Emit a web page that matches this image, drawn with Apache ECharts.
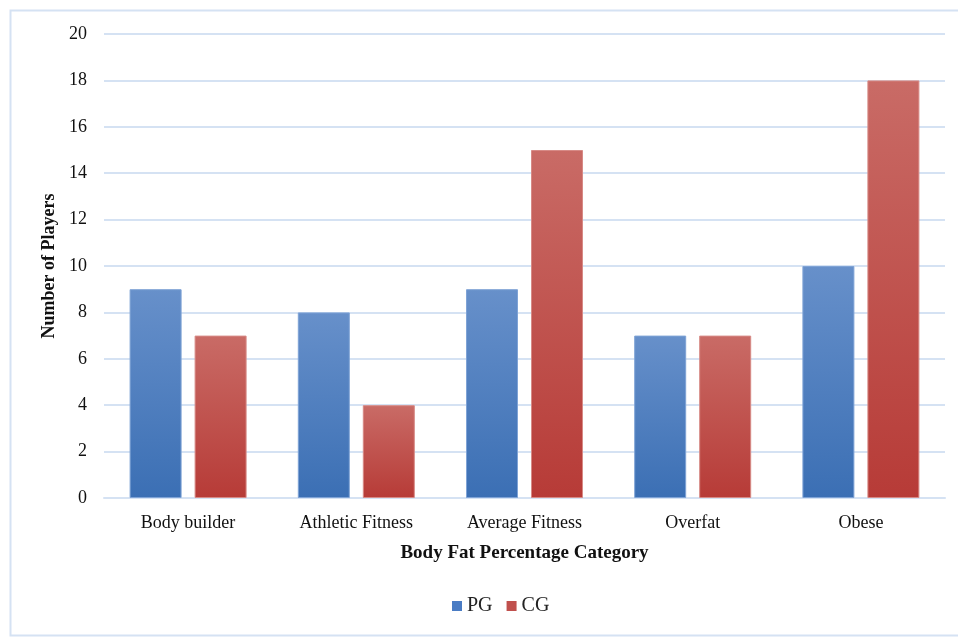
<!DOCTYPE html>
<html>
<head>
<meta charset="utf-8">
<script src="https://cdn.jsdelivr.net/npm/echarts@6/dist/echarts.min.js"></script>
<style>
  html,body{margin:0;padding:0;background:#fff}
  #chart{width:958px;height:637px}
</style>
</head>
<body>
<div id="chart"></div>
<script>
var categories = ['Body builder', 'Athletic Fitness', 'Average Fitness', 'Overfat', 'Obese'];
var pgValues = [9, 8, 9, 7, 10];
var cgValues = [7, 4, 15, 7, 18];

var font = '"Liberation Serif", "Times New Roman", serif';

function grad(top, bottom) {
  return new echarts.graphic.LinearGradient(0, 0, 0, 1, [
    {offset: 0, color: top},
    {offset: 1, color: bottom}
  ]);
}

var myChart = echarts.init(document.getElementById('chart'));
var option = {
  animation: false,
  textStyle: {fontFamily: font},
  graphic: [{
    type: 'rect',
    shape: {x: 10.5, y: 10.5, width: 960, height: 625},
    style: {fill: 'none', stroke: '#d5e2f3', lineWidth: 2},
    silent: true
  }],
  grid: {left: 104, right: 13, top: 34, bottom: 139},
  legend: {
    bottom: 16,
    left: 447,
    itemWidth: 10,
    itemHeight: 10,
    itemGap: 14,
    icon: 'rect',
    textStyle: {fontFamily: font, fontSize: 20, color: '#222'},
    data: [
      {name: 'PG', itemStyle: {color: '#4a7cc4', borderWidth: 0}},
      {name: 'CG', itemStyle: {color: '#c0504d', borderWidth: 0}}
    ]
  },
  xAxis: {
    type: 'category',
    data: categories,
    name: 'Body Fat Percentage Category',
    nameLocation: 'middle',
    nameGap: 46,
    nameTextStyle: {fontFamily: font, fontSize: 19, fontWeight: 'bold', color: '#111'},
    axisLine: {lineStyle: {color: '#d5e2f3', width: 2}},
    axisTick: {show: false},
    axisLabel: {fontFamily: font, fontSize: 18, color: '#111', margin: 16}
  },
  yAxis: {
    type: 'value',
    min: 0,
    max: 20,
    interval: 2,
    name: 'Number of Players',
    nameLocation: 'middle',
    nameGap: 44,
    nameTextStyle: {fontFamily: font, fontSize: 18, fontWeight: 'bold', color: '#111'},
    axisLine: {show: false},
    axisTick: {show: false},
    axisLabel: {fontFamily: font, fontSize: 18, color: '#111', margin: 17},
    splitLine: {lineStyle: {color: '#d5e2f3', width: 2}}
  },
  series: [
    {
      name: 'PG',
      type: 'bar',
      barWidth: 52,
      barGap: '25%',
      itemStyle: {color: grad('#6790ca', '#3b6fb4'), borderColor: '#7fa3d6', borderWidth: 1},
      data: pgValues
    },
    {
      name: 'CG',
      type: 'bar',
      barWidth: 52,
      itemStyle: {color: grad('#c96b66', '#b73b37'), borderColor: '#d78a86', borderWidth: 1},
      data: cgValues
    }
  ]
};
myChart.setOption(option);
</script>
</body>
</html>
